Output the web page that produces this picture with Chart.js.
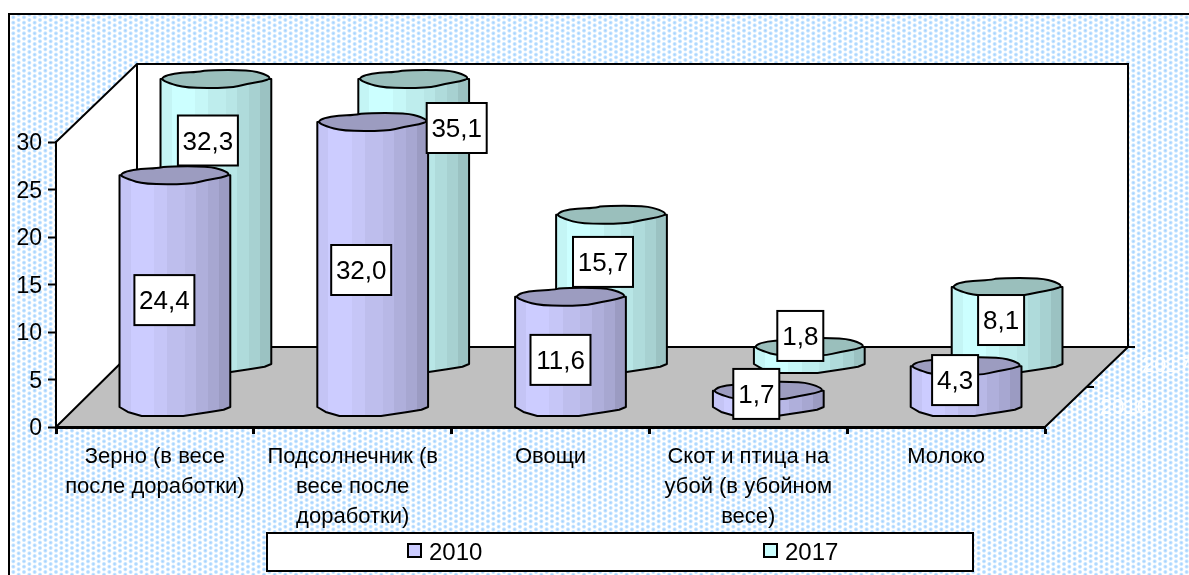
<!DOCTYPE html>
<html lang="ru">
<head>
<meta charset="utf-8">
<style>html,body{margin:0;padding:0;background:#fff}canvas{display:block}</style>
<script src="https://cdn.jsdelivr.net/npm/chart.js@4"></script>
</head>
<body>
<canvas id="c" width="1189" height="575"></canvas>
<script>
const categories = [
  ["Зерно (в весе", "после доработки)"],
  ["Подсолнечник (в", "весе после", "доработки)"],
  ["Овощи"],
  ["Скот и птица на", "убой (в убойном", "весе)"],
  ["Молоко"]
];
const seriesNames = ["2010", "2017"];
const values2010 = [24.4, 32.0, 11.6, 1.7, 4.3];
const values2017 = [32.3, 35.1, 15.7, 1.8, 8.1];

const FONT = '"Liberation Sans", Arial, sans-serif';
const yMax = 30, yStep = 5;
// 3-D look: offset of each row on the floor, and the oblique depth of the box
const depth = {dx: 81, dy: -80};
const rowOffset = [{dx: 20, dy: -20}, {dx: 61, dy: -63}];
const capHalf = 9;
const labelShift = [
  [[-10.5, 9], [-11.5, 5.5], [-10, 8], [-12, -5], [-11, -6.5]],
  [[-8, -81], [43, -93.5], [-8.5, -27.5], [-9, -19.5], [-6, -5.5]]
];
const palette = [
  {base: [204, 204, 255], cap: "#9c9cc0"},
  {base: [204, 255, 255], cap: "#9abfbc"}
];
const bandStops = [0, .1, .31, .43, .59, .69, .8, .9, 1];
const bandShade = [.96, 1, .97, .93, .9, .86, .82, .76];
// irregular cap outline in unit coordinates
const capShape = [[-1, 0], [-.88, -.45], [-.62, -.72], [-.32, -.76], [-.15, -1], [.6, -1], [.88, -.55], [1, -.08], [.85, .25], [.57, .55], [.25, 1], [-.55, 1], [-.85, .45]];
const baseShape = [[-1, 0], [-.85, .55], [-.6, 1], [.15, 1], [.63, .55], [.88, .3], [1, 0]];

function makePattern(ctx) {
  const t = document.createElement("canvas");
  t.width = 32; t.height = 32;
  const g = t.getContext("2d");
  g.fillStyle = "#fff"; g.fillRect(0, 0, 32, 32);
  const step = 16 / 3;
  for (let col = -1; col < 7; col++) {
    for (let row = -1; row < 7; row++) {
      const x = col * step + step / 2;
      const y = row * step + (col % 2 ? step / 2 : 0) + step / 4;
      const r = g.createRadialGradient(x, y, .3, x, y, 2.5);
      r.addColorStop(0, "rgba(165,210,255,1)");
      r.addColorStop(.55, "rgba(190,225,255,.85)");
      r.addColorStop(1, "rgba(215,235,255,0)");
      g.fillStyle = r;
      g.fillRect(x - 3, y - 3, 6, 6);
    }
  }
  return ctx.createPattern(t, "repeat");
}

function smoothPath(ctx, pts) {
  const n = pts.length;
  const mid = (a, b) => [(a[0] + b[0]) / 2, (a[1] + b[1]) / 2];
  const s = mid(pts[0], pts[1]);
  ctx.moveTo(s[0], s[1]);
  for (let i = 1; i <= n; i++) {
    const p = pts[i % n], m = mid(p, pts[(i + 1) % n]);
    ctx.quadraticCurveTo(p[0], p[1], m[0], m[1]);
  }
  ctx.closePath();
}

function drawCylinder(ctx, cx, hw, yBase, yTop, pal) {
  const capPts = capShape.map(p => [cx + p[0] * hw, yTop + p[1] * capHalf]);
  const basePts = baseShape.map(p => [cx + p[0] * hw, yBase + p[1] * capHalf]);
  const grad = ctx.createLinearGradient(cx - hw, 0, cx + hw, 0);
  bandShade.forEach((k, i) => {
    const col = `rgb(${pal.base.map(v => Math.round(v * k)).join(",")})`;
    grad.addColorStop(bandStops[i], col);
    grad.addColorStop(bandStops[i + 1], col);
  });
  ctx.beginPath();
  ctx.moveTo(cx - hw, yTop);
  ctx.lineTo(cx - hw, yBase);
  basePts.slice(1).forEach(p => ctx.lineTo(p[0], p[1]));
  ctx.lineTo(cx + hw, yTop);
  ctx.closePath();
  ctx.fillStyle = grad;
  ctx.fill();
  ctx.strokeStyle = "#000";
  ctx.lineWidth = 2;
  ctx.lineJoin = "round";
  ctx.stroke();
  ctx.beginPath();
  smoothPath(ctx, capPts);
  ctx.fillStyle = pal.cap;
  ctx.fill();
  ctx.stroke();
}

const scenePlugin = {
  id: "scene",
  beforeDraw(chart) {
    const {ctx, chartArea: a, width, height} = chart;
    ctx.save();
    ctx.fillStyle = "#fff";
    ctx.fillRect(0, 0, width, height);
    ctx.fillStyle = makePattern(ctx);
    ctx.fillRect(10, 15, width, height);
    ctx.fillStyle = "#000";
    ctx.fillRect(8, 13, 2, height);
    ctx.fillRect(8, 13, width, 2);
    const bx = a.left + depth.dx, tx = a.right + depth.dx + 2;
    const by = a.bottom + depth.dy, ty = a.top + depth.dy + 2;
    ctx.fillStyle = "#fff";
    ctx.beginPath();
    ctx.moveTo(a.left, a.top); ctx.lineTo(bx, ty); ctx.lineTo(tx, ty);
    ctx.lineTo(tx, by); ctx.lineTo(a.right, a.bottom); ctx.lineTo(a.left, a.bottom);
    ctx.closePath(); ctx.fill();
    ctx.fillStyle = "#c0c0c0";
    ctx.beginPath();
    ctx.moveTo(a.left, a.bottom); ctx.lineTo(bx, by); ctx.lineTo(tx, by); ctx.lineTo(a.right, a.bottom);
    ctx.closePath(); ctx.fill();
    ctx.strokeStyle = "#000"; ctx.lineWidth = 2;
    ctx.beginPath();
    ctx.moveTo(a.left, a.top); ctx.lineTo(bx, ty); ctx.lineTo(tx, ty); ctx.lineTo(tx, by);
    ctx.lineTo(a.right, a.bottom);
    ctx.moveTo(bx, ty); ctx.lineTo(bx, by); ctx.lineTo(a.left, a.bottom);
    ctx.moveTo(bx, by); ctx.lineTo(tx + 7, by);
    ctx.moveTo(a.right + 42, by + 40); ctx.lineTo(a.right + 49, by + 40);
    ctx.stroke();
    ctx.fillStyle = "#fff";
    ctx.font = "22px " + FONT;
    ctx.textAlign = "left"; ctx.textBaseline = "middle";
    ctx.fillText(seriesNames[1], a.right + 97, by + 19);
    ctx.fillText(seriesNames[0], a.right + 55, by + 61);
    ctx.restore();
  },
  beforeDatasetDraw() { return false; },
  beforeDatasetsDraw(chart) {
    const {ctx, scales: {y}} = chart;
    ctx.save();
    const zero = y.getPixelForValue(0);
    [1, 0].forEach(di => {
      const meta = chart.getDatasetMeta(di);
      const off = rowOffset[di];
      meta.data.forEach((bar, i) => {
        const v = Math.min(chart.data.datasets[di].data[i], y.max);
        drawCylinder(ctx, bar.x + off.dx, bar.width / 2, zero + off.dy,
          y.getPixelForValue(v) + off.dy, palette[di]);
      });
    });
    ctx.restore();
  },
  afterDatasetsDraw(chart) {
    const {ctx, scales: {y}} = chart;
    ctx.save();
    ctx.font = "26px " + FONT;
    ctx.textAlign = "center"; ctx.textBaseline = "middle";
    const zero = y.getPixelForValue(0);
    chart.data.datasets.forEach((ds, di) => {
      const off = rowOffset[di];
      chart.getDatasetMeta(di).data.forEach((bar, i) => {
        const raw = ds.data[i];
        const top = y.getPixelForValue(Math.min(raw, y.max));
        const s = labelShift[di][i];
        const cx = bar.x + off.dx + s[0];
        const cy = (zero + top) / 2 + off.dy + s[1];
        const txt = raw.toFixed(1).replace(".", ",");
        const w = raw >= 10 ? 60 : 46, h = 50;
        ctx.fillStyle = "#fff";
        ctx.fillRect(cx - w / 2, cy - h / 2, w, h);
        ctx.strokeStyle = "#000"; ctx.lineWidth = 2;
        ctx.strokeRect(cx - w / 2, cy - h / 2, w, h);
        ctx.fillStyle = "#000";
        ctx.fillText(txt, cx, cy + 2);
      });
    });
    ctx.restore();
  },
  afterDraw(chart) {
    const {ctx, scales: {y}} = chart;
    ctx.save();
    // value-axis labels from the scale's own ticks
    ctx.font = "23px " + FONT;
    ctx.fillStyle = "#000";
    ctx.textAlign = "right"; ctx.textBaseline = "middle";
    y.ticks.forEach(t => ctx.fillText(t.label, 42, y.getPixelForValue(t.value) + 2));
    ctx.fillStyle = "#fff";
    ctx.fillRect(267, 533, 706, 38);
    ctx.strokeStyle = "#000"; ctx.lineWidth = 2;
    ctx.strokeRect(267, 533, 706, 38);
    ctx.font = "24px " + FONT;
    ctx.textAlign = "left";
    const at = [408, 764];
    chart.data.datasets.forEach((ds, i) => {
      ctx.fillStyle = ds.backgroundColorLegend;
      ctx.fillRect(at[i], 544, 13, 13);
      ctx.strokeRect(at[i], 544, 13, 13);
      ctx.fillStyle = "#000";
      ctx.fillText(ds.label, at[i] + 21, 553);
    });
    ctx.restore();
  }
};

new Chart(document.getElementById("c"), {
  type: "bar",
  data: {
    labels: categories,
    datasets: [
      {label: seriesNames[0], data: values2010, backgroundColorLegend: "#ccccff"},
      {label: seriesNames[1], data: values2017, backgroundColorLegend: "#ccffff"}
    ]
  },
  plugins: [scenePlugin],
  options: {
    responsive: false,
    animation: false,
    layout: {padding: {top: 142, right: 144, left: 0, bottom: 0}},
    plugins: {legend: {display: false}, tooltip: {enabled: false}, title: {display: false}},
    datasets: {bar: {grouped: false, categoryPercentage: 1, barPercentage: .56}},
    scales: {
      x: {
        afterFit(s) { s.height = 148; },
        border: {color: "#000", width: 3},
        grid: {drawOnChartArea: false, drawTicks: true, tickLength: 7, tickWidth: 3, tickColor: "#000"},
        ticks: {color: "#000", maxRotation: 0, minRotation: 0, autoSkip: false, padding: 8,
          font: {family: FONT, size: 22, lineHeight: "30px"}}
      },
      y: {
        min: 0, max: yMax,
        afterFit(s) { s.width = 56; },
        border: {color: "#000", width: 2},
        grid: {drawOnChartArea: false, drawTicks: true, tickLength: 8, tickWidth: 2, tickColor: "#000"},
        ticks: {stepSize: yStep, color: "rgba(0,0,0,0)", padding: 6, font: {family: FONT, size: 22}}
      }
    }
  }
});
</script>
</body>
</html>
